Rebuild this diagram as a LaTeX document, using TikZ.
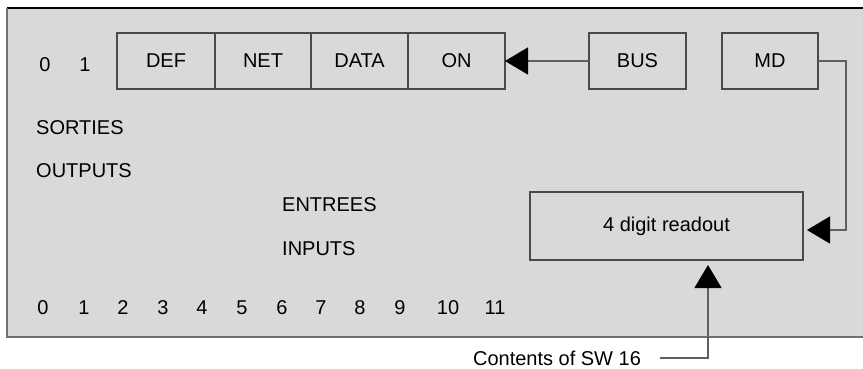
\documentclass[tikz,border=0pt]{standalone}
\usepackage{fontspec}
\setmainfont{Liberation Sans}
\usetikzlibrary{arrows.meta}
\definecolor{panelbg}{HTML}{D9D9D9}
\definecolor{boxline}{HTML}{4A4A4A}
\definecolor{connline}{HTML}{606060}
\definecolor{frameline}{HTML}{707070}
\tikzset{
  lbl/.style={inner sep=0pt, font=\fontsize{20}{24}\selectfont, text=black},
  regbox/.style={draw=boxline, line width=1.2pt, fill=panelbg, inner sep=0pt, outer sep=0pt,
    minimum height=56pt, font=\fontsize{20}{24}\selectfont},
  conn/.style={draw=connline, line width=1.5pt},
  bigtip/.style={-{Triangle[length=23pt,width=27pt,color=black]}}
}
\begin{document}
\begin{tikzpicture}[x=1pt,y=-1pt]
\useasboundingbox (0,0) rectangle (863,368);
% panel
\fill[panelbg] (7,8) rectangle (863,337);
\draw[black, line width=1.5pt] (7,8) -- (863,8);
\draw[frameline, line width=2pt] (7,8) -- (7,337) -- (863,337);
% register boxes
\node[regbox, minimum width=98pt] (def) at (166,61) {DEF};
\node[regbox, minimum width=96pt] (net) at (263,61) {NET};
\node[regbox, minimum width=97pt] (data) at (359.5,61) {DATA};
\node[regbox, minimum width=97pt] (on) at (456.5,61) {ON};
\node[regbox, minimum width=97pt] (bus) at (637.5,61) {BUS};
\node[regbox, minimum width=96pt] (md) at (770,61) {MD};
\node[regbox, minimum width=273pt, minimum height=68pt] (readout) at (666.5,226) {4 digit readout};
% labels
\node[lbl] (o0) at (45,65) {0};
\node[lbl] (o1) at (85,65) {1};
\node[lbl, anchor=west] (sorties) at (36,128) {SORTIES};
\node[lbl, anchor=west] (outputs) at (36,171) {OUTPUTS};
\node[lbl, anchor=west] (entrees) at (282,205) {ENTREES};
\node[lbl, anchor=west] (inputs) at (282,249) {INPUTS};
\node[lbl] (i0) at (43,308) {0};
\node[lbl] (i1) at (84,308) {1};
\node[lbl] (i2) at (123,308) {2};
\node[lbl] (i3) at (163,308) {3};
\node[lbl] (i4) at (202,308) {4};
\node[lbl] (i5) at (242,308) {5};
\node[lbl] (i6) at (282,308) {6};
\node[lbl] (i7) at (321,308) {7};
\node[lbl] (i8) at (360,308) {8};
\node[lbl] (i9) at (400,308) {9};
\node[lbl] (i10) at (448,308) {10};
\node[lbl] (i11) at (495,308) {11};
\node[lbl] (sw) at (557,358) {Contents of SW 16};
% connectors
\draw[conn, bigtip] (bus.west) -- (on.east);
\coordinate (mdturn) at (846,230);
\coordinate (rdin) at (807,230);
\draw[conn, bigtip] (md.east) -| (mdturn) -- (rdin);
\coordinate (swstart) at (660,358);
\coordinate (swturn) at (708,358);
\coordinate (uptip) at (708,265);
\draw[conn, bigtip] (swstart) -- (swturn) -- (uptip);
\end{tikzpicture}
\end{document}
